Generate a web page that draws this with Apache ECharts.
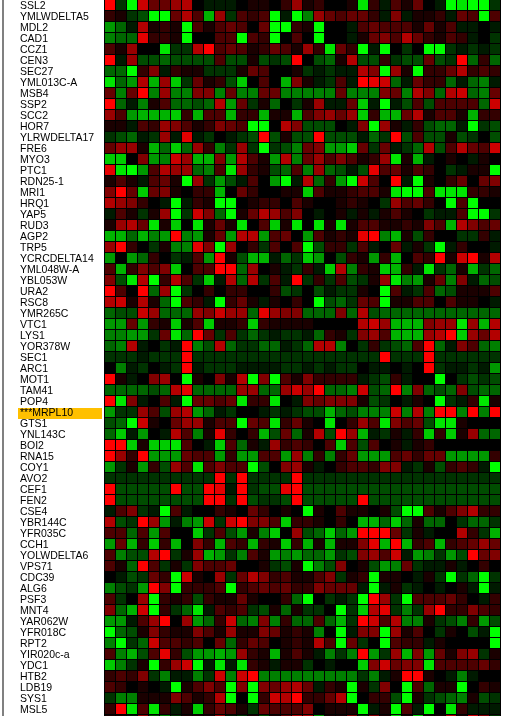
<!DOCTYPE html>
<html><head><meta charset="utf-8">
<script src="https://cdn.jsdelivr.net/npm/echarts@6/dist/echarts.min.js"></script>
<style>html,body{margin:0;padding:0;background:#fff;overflow:hidden}#c{width:509px;height:716px}</style>
</head><body><div id="c"></div>
<script>
const geneNames = ["SSL2","YMLWDELTA5","MDL2","CAD1","CCZ1","CEN3","SEC27","YML013C-A","MSB4","SSP2","SCC2","HOR7","YLRWDELTA17","FRE6","MYO3","PTC1","RDN25-1","MRI1","HRQ1","YAP5","RUD3","AGP2","TRP5","YCRCDELTA14","YML048W-A","YBL053W","URA2","RSC8","YMR265C","VTC1","LYS1","YOR378W","SEC1","ARC1","MOT1","TAM41","POP4","***MRPL10","GTS1","YNL143C","BOI2","RNA15","COY1","AVO2","CEF1","FEN2","CSE4","YBR144C","YFR035C","CCH1","YOLWDELTA6","VPS71","CDC39","ALG6","PSF3","MNT4","YAR062W","YFR018C","RPT2","YIR020c-a","YDC1","HTB2","LDB19","SYS1","MSL5",""];
const highlightedGene = "***MRPL10";
const rowValues = [
[10,-2,-10,8,4,4,6,7,0,-1,-1,-1,0,1,1,0,2,6, 1,2,0,0,1,-9,2,-1,3,1,4,0,-1,-10,-9,-10,-10,-2],
[2,1,-2,-3,-10,-10,4,7,3,-7,6,-2,3,2,3,-10,-1,-10, -5,6,4,3,4,4,2,-1,5,-1,1,1,2,-1,4,3,-10,3],
[-6,-4,-1,7,1,2,1,-10,3,1,3,4,3,0,4,-10,-10,2, 1,-10,0,0,-1,3,4,3,3,3,1,4,1,3,-1,-1,0,-1],
[-5,-4,-4,9,2,2,1,-10,0,0,3,3,-10,3,2,-10,0,3, 0,-10,0,0,-1,1,4,5,3,7,4,2,1,3,2,-1,0,-2],
[3,1,6,0,0,-9,-2,-2,7,10,3,4,3,1,2,4,3,1, 6,2,-9,4,2,-10,-1,-10,0,-2,0,-10,-10,-2,-1,-2,-1,-2],
[10,-1,6,-3,-3,-4,-3,-3,-3,-3,3,-3,-3,1,-3,-2,-3,10, 0,-3,-4,1,7,-3,-3,2,-2,-3,-3,4,-3,-2,10,-4,2,-4],
[-4,-4,-10,2,5,-1,2,1,1,-2,-2,-2,1,4,3,0,0,1, -2,-1,-2,-1,-1,7,5,-10,6,1,-10,2,2,4,7,2,3,2],
[-9,-4,-6,7,-7,6,-8,-2,4,1,2,-3,-8,0,3,0,-7,5, 1,-1,-2,3,-1,10,9,8,-4,-1,4,2,2,-4,-1,-4,-5,-1],
[4,-5,4,10,-5,6,-5,-5,5,5,-5,4,-5,-5,4,4,-5,-5, -5,-5,-5,4,-5,-5,-5,5,4,-5,7,5,-4,7,8,-4,-5,4],
[10,-4,-1,-5,1,3,-4,-4,-3,-4,7,-6,4,-2,1,-4,0,-2, 1,6,-1,-1,4,-8,-1,-10,-1,-3,3,-3,3,3,3,3,-4,8],
[6,3,-6,-7,-7,-7,-8,2,-7,3,3,-7,2,2,-7,1,1,-7, 3,5,6,4,6,-8,2,-7,-7,4,7,1,3,3,1,-7,2,2],
[1,1,-1,3,2,6,5,3,1,2,5,4,3,-10,-10,0,7,5, -3,-3,-3,0,-1,5,-10,6,1,-1,2,-3,-4,-4,-1,-10,-2,-3],
[-2,-3,-4,-1,-2,6,-1,9,-1,-2,0,-1,-2,-3,10,-3,1,-3, -3,10,-3,-3,-3,-1,-4,-2,10,-3,3,-3,-3,1,-3,-2,0,-3],
[4,6,6,1,-7,-4,-8,-4,6,2,-5,-2,6,-2,-10,-2,-3,-5, 4,5,-6,-6,-8,4,-2,4,-1,-2,-4,7,-3,3,7,4,3,8],
[-8,-8,0,5,-6,-5,8,6,-7,-7,5,-6,7,3,1,-6,7,-5, 4,6,3,5,3,1,2,6,-9,1,-7,-1,0,1,0,-1,1,0],
[9,-9,-10,-6,3,7,6,6,-4,-5,3,-9,6,2,1,-3,-4,3, -5,6,-4,-3,-1,-3,9,3,4,1,3,2,0,-2,-1,1,1,-10],
[1,3,1,-1,3,4,1,-10,6,-2,-6,-3,-1,3,0,-6,-10,-1, 7,-4,2,-6,-10,8,3,0,10,-1,-10,1,0,2,4,0,4,5],
[5,10,4,-8,4,5,1,0,2,2,-7,0,4,2,0,0,1,1, -8,3,1,1,2,3,3,1,-9,-10,-10,3,-9,-9,-9,2,2,1],
[7,6,5,2,0,-1,-10,-1,2,1,-10,-10,0,1,2,2,0,3, 1,0,0,1,2,1,0,-2,6,3,4,2,0,-10,3,-10,0,0],
[-1,3,1,-2,1,6,-10,-2,8,5,-4,-10,1,4,7,6,3,5, 0,-1,0,1,-1,1,-1,1,3,1,0,-2,-1,-1,3,-10,-10,-2],
[1,6,7,4,-9,1,-8,0,-9,1,4,1,-9,0,3,-8,1,-9, 0,-9,1,-9,1,3,3,1,1,2,1,5,3,-7,7,5,3,4],
[-7,-7,-4,-7,-5,-6,10,-5,-6,1,4,-6,7,7,-6,3,4,0, -6,3,1,2,1,9,10,-5,-7,1,-3,2,0,0,-2,-2,2,-1],
[6,10,2,0,-2,1,-5,-5,9,5,-10,6,0,2,-2,3,0,3, -10,-3,2,2,-2,3,-1,0,4,-1,1,-2,-10,-1,2,0,0,-1],
[-6,0,-6,-4,2,0,-2,-1,3,-6,10,1,-3,-7,-7,-1,-4,-2, -8,-6,0,-3,2,1,-6,2,-7,0,3,2,10,1,8,10,1,7],
[3,-7,2,5,3,5,-8,0,3,3,10,10,-4,6,0,1,-1,-2, 2,-1,-8,7,-5,2,1,-8,-7,2,-1,-9,-2,-4,1,-7,-2,-4],
[5,-3,-9,7,-10,2,7,3,-2,-8,-1,7,-4,7,-2,3,-1,10, -2,2,-2,3,-3,-2,1,6,-9,-5,-6,1,4,-5,5,-1,-4,-3],
[10,3,0,10,-4,6,-10,-2,0,2,0,2,2,0,0,2,-3,-2, 0,-3,-1,-2,-2,1,0,-10,3,-1,-2,3,-4,-3,1,1,1,3],
[7,8,1,7,1,-4,-10,3,2,-1,-10,2,4,1,-1,1,0,2, 0,-10,-3,-4,-2,4,3,-10,1,1,3,3,0,3,1,1,0,-1],
[-4,-3,-3,8,6,-4,-4,-4,6,5,8,6,6,-4,9,6,5,5, -4,-4,-4,5,-4,7,-3,-4,-4,-4,-4,-4,-4,-4,-4,-4,-4,-4],
[-6,-6,4,-6,2,1,-8,1,3,-8,1,1,2,-8,2,1,1,1, 1,0,0,0,0,7,8,6,-7,-7,-7,5,6,6,-9,6,-7,7],
[-5,-5,-6,-6,-2,4,-9,-4,10,4,-2,3,-2,-4,-2,-1,-2,-2, -1,-4,2,1,-2,5,6,3,-7,-7,-7,6,7,10,-8,6,4,7],
[-4,-5,7,-1,0,-2,-1,10,-5,-3,7,-4,-2,-2,-4,-4,-1,-2, -4,7,7,-5,0,-2,2,-2,-3,-4,3,10,-4,-1,5,3,-4,-5],
[-2,-2,-2,-1,-2,-2,-2,10,-2,-2,-2,-2,-2,-2,-2,-2,-2,-2, -2,-2,-2,-2,-2,-2,-2,10,-2,-2,-2,10,-2,-2,-2,-2,-2,-2],
[0,-5,-1,-2,0,-1,-2,10,-1,-2,-2,-2,-1,-1,-1,-1,-2,-2, -1,-2,-1,-2,-2,0,-1,-1,0,-1,0,10,-2,-1,-1,-2,-1,-6],
[10,1,-1,0,5,6,0,-10,1,0,5,1,7,-10,5,-10,3,1, 5,2,2,2,2,-1,-2,-3,2,-1,0,0,-10,0,-2,-3,-2,-3],
[-4,-4,-4,-4,-3,-4,7,9,-4,-4,-4,-4,6,6,-4,-4,6,8, 6,10,-4,-4,-5,8,-3,-4,10,-5,5,-4,-3,-4,5,-3,-4,-4],
[10,-9,5,-1,0,3,-1,-10,4,4,3,4,-9,2,2,-9,0,-1, 5,4,5,5,5,1,-3,-2,0,-1,1,0,-10,-2,-1,2,-9,1],
[-6,-2,-2,6,3,-3,6,7,-6,-4,-1,-2,0,0,-1,-2,-1,-2, -3,-3,-7,-4,-3,-5,-5,-5,8,-5,7,-5,10,10,-5,10,-5,10],
[-3,-4,-10,8,1,0,4,6,6,1,3,3,-10,4,3,-9,2,4, 1,0,-9,0,2,6,3,-9,5,3,4,-3,-9,-9,1,0,0,0],
[-4,-8,-1,-6,0,-1,7,3,-5,1,9,2,0,2,-7,-3,4,-4, 1,7,-3,10,6,-7,-1,-2,1,-1,2,-8,2,-8,1,6,-4,-4],
[10,10,-8,1,-8,-8,-9,3,0,-1,-8,3,-4,1,-1,6,2,3, 2,0,3,-8,3,-3,3,0,1,-1,1,2,0,0,0,0,0,0],
[10,6,2,10,-6,-6,-6,4,3,3,-6,2,-6,-6,3,3,-6,6, -5,2,-5,2,4,-6,-6,-6,3,4,2,4,4,-6,-6,-6,-6,2],
[-6,-2,1,-6,2,-3,6,3,-9,3,5,3,3,-10,-3,0,5,6, 1,-1,0,2,3,3,2,5,5,-1,-2,1,-3,2,3,2,-1,-10],
[-2,-2,-2,-2,-2,-2,-2,-2,-2,-2,10,-2,10,-2,-2,-2,-2,10, -2,-2,-2,-2,-2,-2,-2,-2,-2,-2,-2,-2,-2,-2,-2,-2,-2,-2],
[10,-3,-3,-3,-3,-3,10,-3,-3,10,9,-1,10,-2,-3,-3,9,10, -3,-3,-3,-3,-3,-3,-3,-3,-3,-3,-3,-3,-3,-3,-3,-3,-3,-3],
[10,-3,-3,-3,-3,-3,-3,-3,-3,10,10,-2,10,-3,-2,-2,-3,10, -3,-3,-3,-3,-3,10,-3,-3,-3,-3,-3,-3,-3,-3,-3,-3,-3,-3],
[-1,3,5,-2,-1,-10,3,-1,0,0,2,1,0,4,2,0,1,0, -10,1,0,3,1,1,0,1,-3,-10,-10,3,1,3,5,7,2,2],
[7,-3,-2,10,6,-6,-1,-5,-6,8,-2,8,10,5,5,3,-8,2, 2,1,0,2,0,-7,-7,-4,-8,-4,1,-4,-4,0,-2,-4,-4,-2],
[3,3,-4,3,-6,3,0,0,-8,-2,3,-3,-6,1,-5,-8,0,6, -3,-4,-8,-4,-6,10,10,10,4,-2,1,-1,0,0,7,2,-2,-7],
[-6,4,-7,2,-8,2,-7,0,5,2,-7,3,2,-7,2,1,-8,2, -7,1,-7,1,1,5,9,-7,10,-7,2,3,-7,2,3,4,6,4],
[3,-5,-3,-3,7,10,-2,1,6,-7,-6,-2,-5,3,1,-6,-5,-6, -4,-4,-6,-2,-3,5,6,3,8,-1,-6,-5,-2,-6,-3,10,4,5],
[3,1,-4,10,3,-2,1,-2,5,3,3,4,0,0,1,-2,-3,1, -10,-5,-3,5,0,1,-3,-6,-5,4,-2,-1,-1,1,-1,0,2,0],
[0,-1,-3,-2,4,2,-10,8,1,0,6,-2,4,7,5,2,3,1, 1,3,5,-2,1,2,-10,1,1,0,-1,1,-2,-10,-2,-4,-10,-2],
[-5,-3,-2,-6,10,5,-10,2,2,2,3,-10,2,3,4,3,4,2, 2,5,4,4,4,-1,-10,-1,1,-2,-1,0,-1,0,1,-1,-10,-1],
[3,-2,0,6,-10,2,1,2,-3,2,1,1,4,1,0,0,2,-4, -10,0,-2,-1,-2,-10,10,6,-2,-10,3,3,3,4,2,0,-1,2],
[5,-4,-7,8,-10,2,-2,-4,-9,-1,3,2,3,-2,-3,1,-4,1, -2,-2,0,-10,-2,-8,7,9,-2,-5,-2,6,10,2,2,5,3,2],
[-6,-6,-1,3,6,10,0,6,-6,-4,2,8,-4,-5,5,-5,2,-4, -4,3,-4,-7,-2,10,8,3,7,-5,-5,1,-2,-3,-5,2,-6,-3],
[-10,-4,-3,1,5,2,1,1,5,3,1,6,1,1,5,4,1,2, 1,-5,0,-10,-1,5,5,-10,6,1,3,0,-2,1,0,-3,-1,-10],
[-5,-10,-2,-4,8,3,3,2,3,0,4,-4,2,4,3,0,1,2, 1,7,3,-10,4,-2,0,-10,3,2,2,-1,1,0,0,0,0,-10],
[3,-5,-7,-3,3,9,2,-3,-6,-6,-7,-6,6,2,1,-7,1,3, 1,-1,-5,-2,-5,10,-6,-2,6,-7,5,-6,4,1,5,6,-2,1],
[-8,-5,-2,1,-10,2,6,8,-10,-1,-9,-1,-9,2,1,-1,1,1, -2,0,-1,0,0,-8,5,8,4,5,5,-9,3,3,3,3,4,2],
[2,3,2,5,-2,-5,-1,-1,-5,-2,8,-5,8,10,-5,-5,-5,-5, -5,-5,-5,-5,-5,-2,-5,-1,1,10,10,1,0,-1,-5,-1,0,0],
[3,2,0,1,0,-1,-10,1,3,5,3,-10,5,-10,5,4,6,7, 4,-1,2,1,-10,1,-2,5,0,-10,3,-4,1,1,-10,0,2,1],
[-2,-5,-5,1,1,1,5,3,1,2,7,-10,0,-10,2,8,7,10, 2,2,4,7,-10,0,2,2,-3,-10,1,-2,-3,-4,-5,1,-3,-2],
[2,10,-9,3,-9,2,-1,1,-8,2,4,3,1,-2,4,3,3,3, 5,0,1,1,1,-10,-1,1,-10,3,-1,-10,0,-9,2,-1,-1,-1],
[1,1,-1,6,-3,-5,-2,1,1,1,6,-1,-2,1,-3,1,4,7, 7,-6,1,1,5,-2,5,1,-8,1,-8,1,1,7,1,8,5,-2]
];
const columnLabels = rowValues[0].map((_, k) => String(k + 1));
const cells = [];
rowValues.forEach((row, r) => row.forEach((v, c) => cells.push([c, r, v])));

function renderCell(params, api) {
  const center = api.coord([api.value(0), api.value(1)]);
  const band = api.size([1, 1]);
  return {
    type: 'rect',
    shape: {
      x: Math.floor(center[0] - band[0] / 2) + 1,
      y: Math.floor(center[1] - band[1] / 2) + 1,
      width: band[0] - 1,
      height: band[1] - 1
    },
    style: {fill: api.visual('color')}
  };
}

const chart = echarts.init(document.getElementById('c'), null, {renderer:'canvas'});
chart.setOption({
  animation:false,
  backgroundColor:'#ffffff',
  grid:{left:104, top:-1, width:396, height:726, show:true, backgroundColor:'#000', borderWidth:0, containLabel:false, outerBoundsMode:'none'},
  xAxis:{type:'category', data:columnLabels, axisLine:{show:false}, axisTick:{show:false}, axisLabel:{show:false}, splitLine:{show:false}},
  yAxis:{type:'category', data:geneNames, inverse:true, axisLine:{show:false}, axisTick:{show:false}, splitLine:{show:false},
    axisLabel:{interval:0, margin:86, align:'left', hideOverlap:false, color:'#000', padding:[4,0,0,0],
      fontFamily:'Liberation Sans', fontSize:10.5,
      formatter:v => v === highlightedGene ? '{hl|' + v + '}' : '{n|' + v + '}',
      rich:{
        n:{fontFamily:'Liberation Sans', fontSize:10.5, color:'#000', padding:[0,0,0,2]},
        hl:{fontFamily:'Liberation Sans', fontSize:10.5, color:'#000', backgroundColor:'#ffc000', width:82, height:11, lineHeight:11, padding:[0,0,0,2]}
      }}},
  visualMap:{show:false, type:'continuous', min:-10, max:10, dimension:2, seriesIndex:0,
    inRange:{color:['#00ff00','#000000','#ff0000']}},
  series:[{type:'custom', clip:false, renderItem:renderCell, encode:{x:0,y:1}, data:cells, silent:true}],
  graphic:[
    {type:'rect', silent:true, shape:{x:2,y:0,width:2,height:716}, style:{fill:'#808080'}},
    {type:'rect', silent:true, shape:{x:500,y:0,width:1,height:716}, style:{fill:'#000'}}
  ]
});
</script></body></html>
